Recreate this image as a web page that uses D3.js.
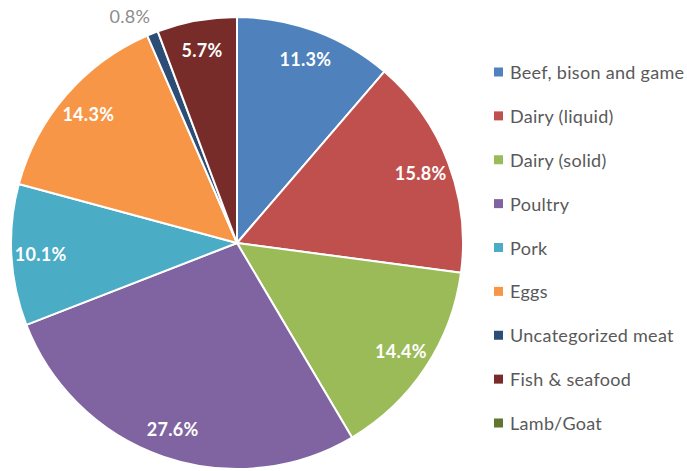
<!DOCTYPE html>
<html>
<head>
<meta charset="utf-8">
<script src="https://cdn.jsdelivr.net/npm/d3@7"></script>
<style>
  html, body { margin: 0; padding: 0; background: #fff; }
  svg { display: block; }
</style>
</head>
<body>
<svg id="chart" width="687" height="471"></svg>
<script>
// Share of each food category (percent)
const categories = [
  "Beef, bison and game",
  "Dairy (liquid)",
  "Dairy (solid)",
  "Poultry",
  "Pork",
  "Eggs",
  "Uncategorized meat",
  "Fish & seafood",
  "Lamb/Goat"
];
const shares = [11.3, 15.8, 14.4, 27.6, 10.1, 14.3, 0.8, 5.7, 0.0];
const colors = ["#4F81BD", "#C0504D", "#9BBB59", "#8064A2", "#4BACC6",
                "#F79646", "#2C4D75", "#772C2A", "#5F7530"];

const data = categories.map((c, i) => ({ name: c, value: shares[i], color: colors[i] }));

const svg = d3.select("#chart");
const cx = 237, cy = 243, R = 226;
const g = svg.append("g").attr("transform", `translate(${cx},${cy})`);

const pie = d3.pie().value(d => d.value).sort(null);
const arcs = pie(data);
const arc = d3.arc().innerRadius(0).outerRadius(R);
const labelArc = d3.arc().innerRadius(R * 0.87).outerRadius(R * 0.87);
const outerArc = d3.arc().innerRadius(R + 22).outerRadius(R + 22);

g.selectAll("path.slice")
  .data(arcs.filter(d => d.data.value > 0))
  .join("path")
  .attr("class", "slice")
  .attr("d", arc)
  .attr("fill", d => d.data.color)
  .attr("stroke", "#fff")
  .attr("stroke-width", 2)
  .attr("stroke-linejoin", "round");

const font = "Lato, 'Open Sans', sans-serif";

// Percentage labels: inside for large slices, outside for very small ones
arcs.filter(d => d.data.value > 0).forEach(d => {
  const small = d.data.value < 2;
  const p = small ? outerArc.centroid(d) : labelArc.centroid(d);
  g.append("text")
    .attr("x", small ? p[0] + 6 : p[0])
    .attr("y", small ? p[1] + 3 : p[1])
    .attr("text-anchor", small ? "end" : "middle")
    .attr("dominant-baseline", "central")
    .attr("font-family", font)
    .attr("font-size", 18)
    .attr("letter-spacing", 0.3)
    .attr("font-weight", small ? "normal" : "bold")
    .attr("fill", small ? "#8C8C8C" : "#FFFFFF")
    .text(d3.format(".1f")(d.data.value) + "%");
});

// Legend
const legendY = d3.scalePoint().domain(categories).range([72, 423]);
const legend = svg.append("g");
const items = legend.selectAll("g.item").data(data).join("g")
  .attr("class", "item")
  .attr("transform", d => `translate(494,${legendY(d.name)})`);
items.append("rect")
  .attr("x", 0).attr("y", -4.5).attr("width", 9).attr("height", 9)
  .attr("fill", d => d.color);
items.append("text")
  .attr("x", 16).attr("y", 0)
  .attr("dominant-baseline", "central")
  .attr("font-family", font)
  .attr("font-size", 18)
  .attr("letter-spacing", 0.3)
  .attr("fill", "#595959")
  .text(d => d.name);
</script>
</body>
</html>
